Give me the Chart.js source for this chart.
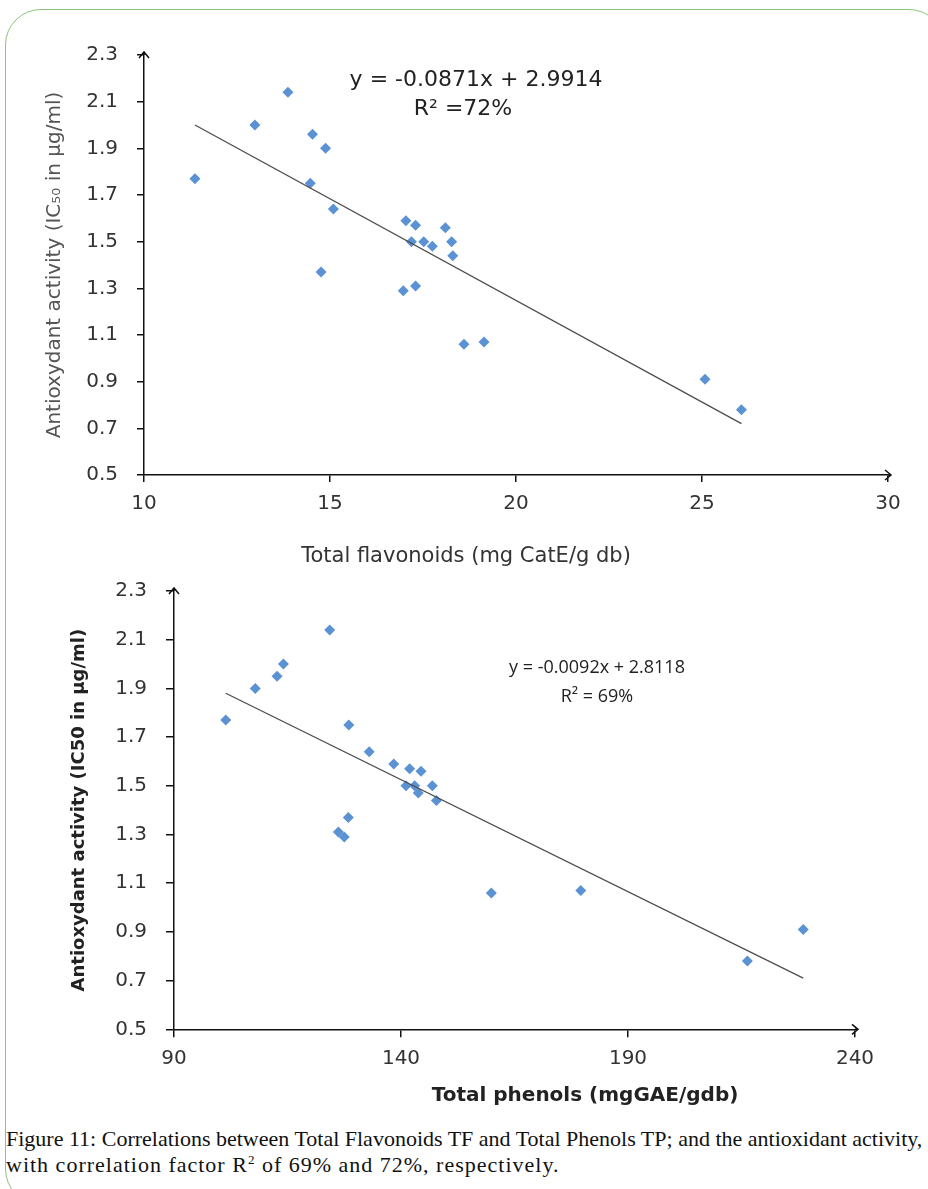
<!DOCTYPE html>
<html>
<head>
<meta charset="utf-8">
<script src="https://cdn.jsdelivr.net/npm/chart.js@4.4.0/dist/chart.umd.min.js"></script>
<style>
body{margin:0;width:928px;height:1189px;overflow:hidden;background:#fff;position:relative;font-family:"DejaVu Sans",sans-serif}
.frame{position:absolute;left:5px;top:9px;width:940px;height:1196px;border:1px solid #8dc37b;border-radius:36px;box-sizing:border-box}
.box{position:absolute;left:0;width:928px}
#topBox{top:0;height:575px}
#botBox{top:560px;height:555px}
.caption{position:absolute;left:6px;top:1126px;font-family:"Liberation Serif",serif;font-size:22px;line-height:26px;color:#111;white-space:nowrap}
.caption .l2{letter-spacing:1px}
.caption sup{font-size:13px;line-height:0}
</style>
</head>
<body>
<div class="frame"></div>
<div class="box" id="topBox"><canvas id="chartTop"></canvas></div>
<div class="box" id="botBox"><canvas id="chartBottom"></canvas></div>
<div class="caption">Figure 11: Correlations between Total Flavonoids TF and Total Phenols TP; and the antioxidant activity,<br><span class="l2">with correlation factor R<sup>2</sup> of 69% and 72%, respectively.</span></div>

<script>
// values
const tfX = [11.37, 12.98, 13.87, 14.53, 14.88, 14.47, 15.09, 14.76, 17.04, 17.30, 17.19, 17.52, 17.75, 18.10, 18.27, 18.30, 16.97, 17.30, 18.60, 19.14, 25.08, 26.06];
const tfY = [1.77, 2.00, 2.14, 1.96, 1.90, 1.75, 1.64, 1.37, 1.59, 1.57, 1.50, 1.50, 1.48, 1.56, 1.50, 1.44, 1.29, 1.31, 1.06, 1.07, 0.91, 0.78];
const tfTrendX = [11.37, 26.06];
const tfTrendY = [2.00, 0.72];

const tpX = [101.4, 107.9, 112.7, 114.1, 124.3, 128.5, 133.0, 138.4, 141.9, 144.4, 141.1, 143.0, 143.8, 146.9, 147.8, 128.4, 126.2, 127.5, 159.9, 179.6, 216.3, 228.6];
const tpY = [1.77, 1.90, 1.95, 2.00, 2.14, 1.75, 1.64, 1.59, 1.57, 1.56, 1.50, 1.50, 1.47, 1.50, 1.44, 1.37, 1.31, 1.29, 1.06, 1.07, 0.78, 0.91];
const tpTrendX = [101.4, 228.6];
const tpTrendY = [1.88, 0.71];

const yTicks = [0.5, 0.7, 0.9, 1.1, 1.3, 1.5, 1.7, 1.9, 2.1, 2.3];
const yTickLabels = ['0.5', '0.7', '0.9', '1.1', '1.3', '1.5', '1.7', '1.9', '2.1', '2.3'];
const tfTicks = [10, 15, 20, 25, 30];
const tpTicks = [90, 140, 190, 240];

const pts = (xs, ys) => xs.map((x, i) => ({x: x, y: ys[i]}));

// arrows on the axes + free text (x title, equation)
const extras = {
  id: 'extras',
  afterDraw(chart, args, o) {
    const ctx = chart.ctx, a = chart.chartArea;
    ctx.save();
    ctx.strokeStyle = '#111';
    ctx.lineWidth = 1.5;
    ctx.beginPath();
    ctx.moveTo(a.left, a.top); ctx.lineTo(a.left, a.top - 3);
    ctx.moveTo(a.left - 5, a.top + 3); ctx.lineTo(a.left, a.top - 3); ctx.lineTo(a.left + 5, a.top + 3);
    ctx.moveTo(a.right, a.bottom); ctx.lineTo(a.right + 3, a.bottom);
    ctx.moveTo(a.right - 3, a.bottom - 5); ctx.lineTo(a.right + 3, a.bottom); ctx.lineTo(a.right - 3, a.bottom + 5);
    ctx.stroke();
    ctx.textAlign = 'center';
    ctx.textBaseline = 'middle';
    (o.texts || []).forEach(t => {
      ctx.font = t.font;
      ctx.fillStyle = t.color;
      ctx.fillText(t.text, t.x, t.y);
    });
    ctx.restore();
  }
};

function makeChart(id, cfg) {
  return new Chart(document.getElementById(id), {
    type: 'scatter',
    data: {
      datasets: [
        {
          data: cfg.points,
          pointStyle: 'rectRot',
          pointRadius: 5.5,
          pointBorderWidth: 0,
          backgroundColor: '#5b92d3',
          borderColor: '#5b92d3',
          order: 2
        },
        {
          data: cfg.trend,
          showLine: true,
          pointRadius: 0,
          borderColor: '#4d4d4d',
          borderWidth: 1.3,
          order: 1
        }
      ]
    },
    options: {
      responsive: true,
      maintainAspectRatio: false,
      animation: false,
      layout: { padding: { top: cfg.top, right: cfg.right, left: 0, bottom: 0 } },
      plugins: {
        legend: { display: false },
        tooltip: { enabled: false },
        extras: { texts: cfg.texts }
      },
      scales: {
        x: {
          type: 'linear',
          min: cfg.xTicks[0],
          max: cfg.xTicks[cfg.xTicks.length - 1],
          afterBuildTicks: s => { s.ticks = cfg.xTicks.map(v => ({value: v})); },
          afterFit: s => { s.height = cfg.xHeight; },
          border: { color: '#111', width: 1.5 },
          grid: { drawOnChartArea: false, drawTicks: true, tickLength: cfg.tick, color: '#111', lineWidth: 1.5 },
          ticks: { color: cfg.tickColor, font: { family: 'DejaVu Sans', size: 20 }, padding: cfg.xPad, maxRotation: 0 }
        },
        y: {
          min: 0.5,
          max: 2.3,
          afterBuildTicks: s => { s.ticks = yTicks.map(v => ({value: v})); },
          afterFit: s => { s.width = cfg.yWidth; },
          border: { color: '#111', width: 1.5 },
          grid: { drawOnChartArea: false, drawTicks: true, tickLength: cfg.tick, color: '#111', lineWidth: 1.5 },
          ticks: {
            color: cfg.tickColor,
            font: { family: 'DejaVu Sans', size: 20 },
            padding: cfg.yPad,
            callback: (v, i) => yTickLabels[i]
          },
          title: {
            display: true,
            text: cfg.yTitle,
            color: cfg.yTitleColor,
            font: { family: 'DejaVu Sans', size: cfg.yTitleSize, weight: cfg.bold ? 'bold' : 'normal' },
            padding: { top: cfg.yTitlePad, bottom: 0 }
          }
        }
      }
    },
    plugins: [extras]
  });
}

// Total flavonoids
makeChart('chartTop', {
  points: pts(tfX, tfY),
  trend: pts(tfTrendX, tfTrendY),
  xTicks: tfTicks,
  top: 55, right: 40, xHeight: 100, yWidth: 144,
  tick: 7, xPad: 10, yPad: 19,
  tickColor: '#333',
  yTitle: 'Antioxydant activity (IC\u2085\u2080 in \u00b5g/ml)',
  yTitleColor: '#555',
  yTitleSize: 20,
  yTitlePad: 43,
  bold: false,
  texts: [
    { text: 'Total flavonoids (mg CatE/g db)', x: 466, y: 557, font: '21px "DejaVu Sans"', color: '#333' },
    { text: 'y = -0.0871x + 2.9914', x: 476, y: 80, font: '22px "DejaVu Sans"', color: '#222' },
    { text: 'R\u00b2 =72%', x: 463, y: 109, font: '22px "DejaVu Sans"', color: '#222' }
  ]
});

// Total phenols
makeChart('chartBottom', {
  points: pts(tpX, tpY),
  trend: pts(tpTrendX, tpTrendY),
  xTicks: tpTicks,
  top: 29, right: 73, xHeight: 85.7, yWidth: 174,
  tick: 8, xPad: 9, yPad: 19,
  tickColor: '#333',
  yTitle: 'Antioxydant activity (IC50 in \u00b5g/ml)',
  yTitleColor: '#222',
  yTitleSize: 18,
  yTitlePad: 69,
  bold: true,
  texts: [
    { text: 'Total phenols (mgGAE/gdb)', x: 585, y: 536, font: 'bold 20px "DejaVu Sans"', color: '#222' },
    { text: 'y = -0.0092x + 2.8118', x: 597, y: 108, font: '18px "Open Sans"', color: '#222' },
    { text: 'R\u00b2 = 69%', x: 597, y: 137, font: '18px "Open Sans"', color: '#222' }
  ]
});
</script>
</body>
</html>
